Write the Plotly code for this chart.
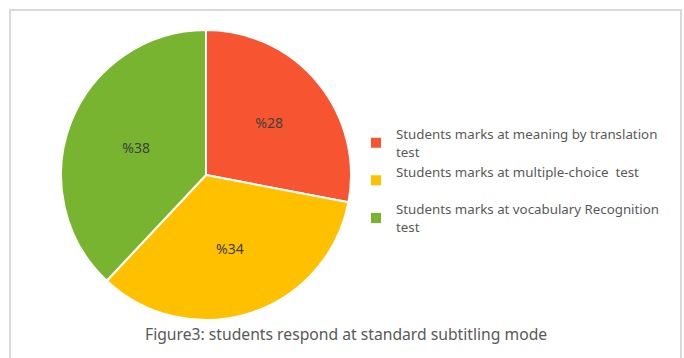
import plotly.graph_objects as go

labels = [
    "Students marks at meaning by translation<br>test",
    "Students marks at multiple-choice  test<br> ",
    "Students marks at vocabulary Recognition<br>test",
]
values = [28, 34, 38]
colors = ["#F75431", "#FFC000", "#78B42F"]
title_text = "Figure3: students respond at standard subtitling mode"

W, H = 684, 358
cx, cy, r = 206, 175, 145

fig = go.Figure(go.Pie(
    labels=labels,
    values=values,
    text=[f"%{v}" for v in values],
    textinfo="text",
    textposition="inside",
    insidetextorientation="horizontal",
    sort=False,
    direction="clockwise",
    rotation=0,
    marker=dict(colors=colors, line=dict(color="white", width=2)),
    textfont=dict(family="Noto Sans", size=14, color="#404040"),
    hoverinfo="label+value",
    domain=dict(x=[(cx - r) / W, (cx + r) / W], y=[1 - (cy + r) / H, 1 - (cy - r) / H]),
))

fig.update_layout(
    width=W, height=H,
    margin=dict(l=0, r=0, t=0, b=0),
    paper_bgcolor="white",
    plot_bgcolor="white",
    showlegend=True,
    legend=dict(
        x=356 / W, y=1 - 119 / H, xanchor="left", yanchor="top",
        font=dict(family="Noto Sans", size=13.3, color="#595959"),
        bgcolor="rgba(0,0,0,0)",
        itemsizing="constant",
    ),
    shapes=[dict(type="rect", xref="paper", yref="paper",
                 x0=10 / W, x1=681 / W, y0=-0.05, y1=1 - 10 / H,
                 line=dict(color="#D9D9D9", width=2), fillcolor="rgba(0,0,0,0)")],
    annotations=[dict(text=title_text, xref="paper", yref="paper",
                      x=346 / W, y=1 - 334 / H, xanchor="center", yanchor="middle",
                      showarrow=False,
                      font=dict(family="Noto Sans", size=15.7, color="#595959"))],
)

fig.write_html("out.html")
